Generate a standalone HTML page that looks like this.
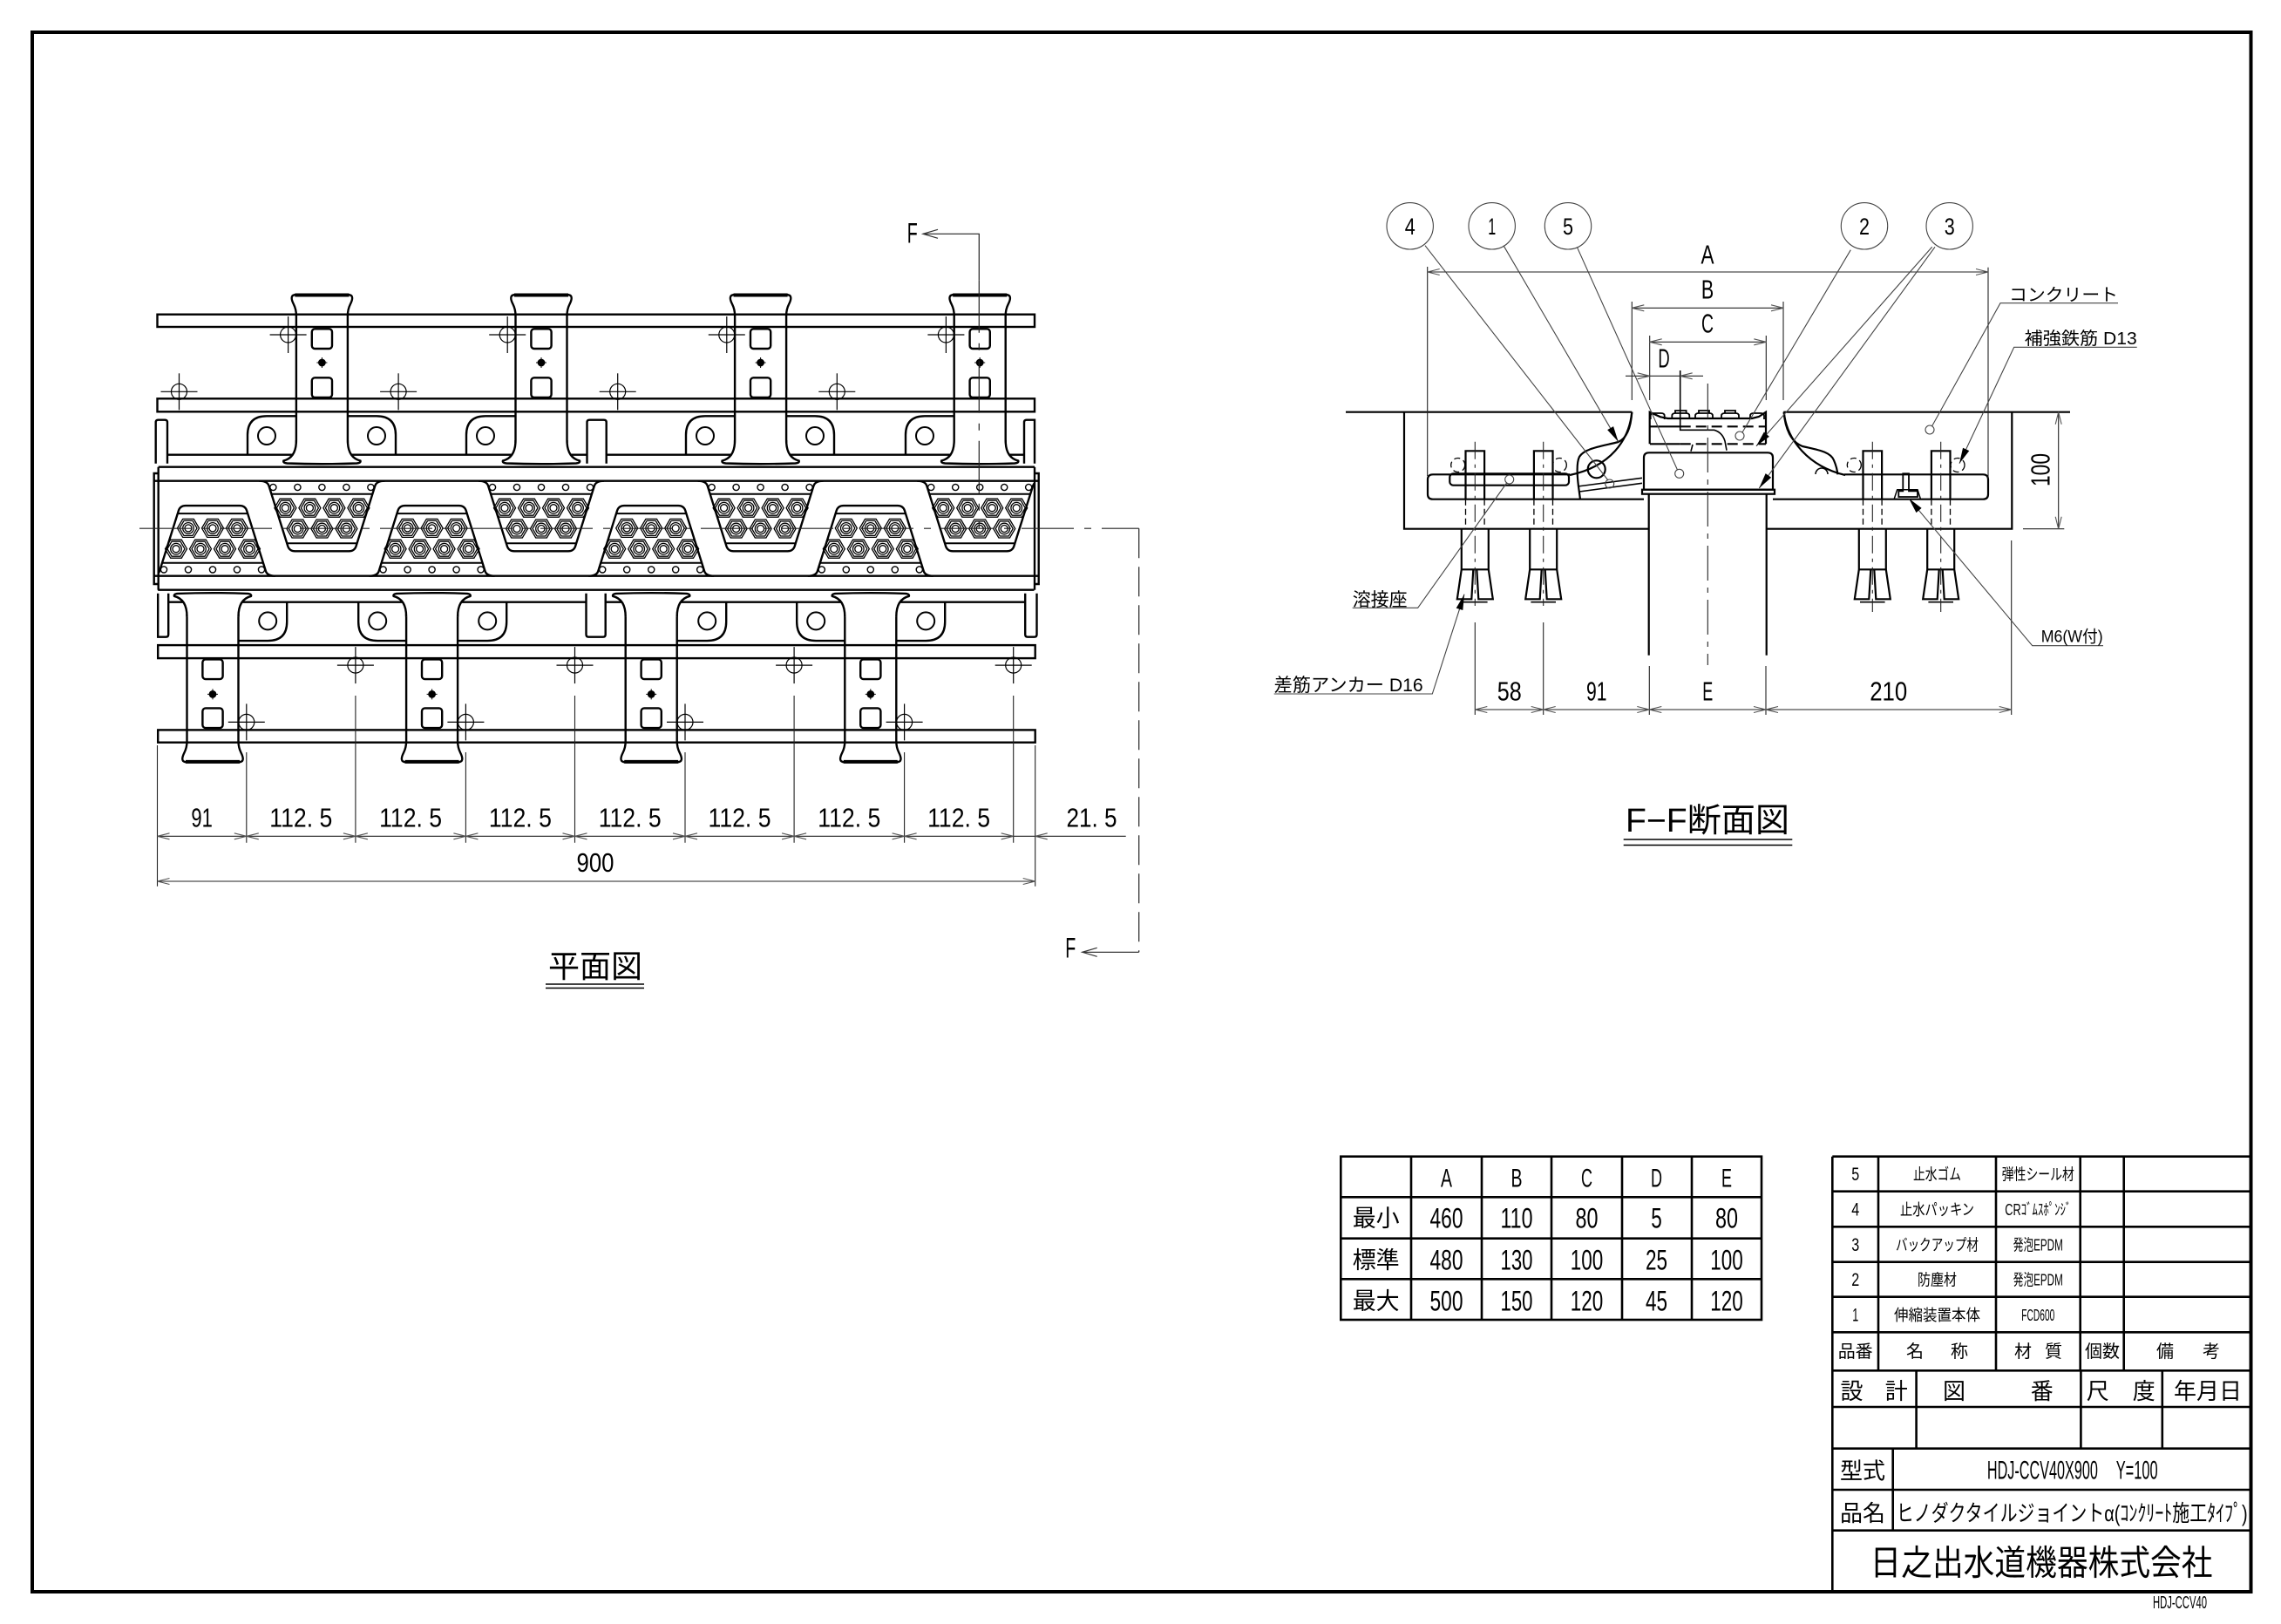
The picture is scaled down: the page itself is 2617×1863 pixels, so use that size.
<!DOCTYPE html>
<html><head><meta charset="utf-8">
<style>
html,body{margin:0;padding:0;background:#fff;}
svg{display:block;}
.n{font-family:"Liberation Sans Narrow","Liberation Sans",sans-serif;}
.j{font-family:"Liberation Sans","Noto Sans CJK JP",sans-serif;}
</style></head><body>
<svg xmlns="http://www.w3.org/2000/svg" width="2617" height="1863" viewBox="0 0 2617 1863">
<defs>
<marker id="da" viewBox="-18 -7 20 14" refX="0" refY="0" markerWidth="20" markerHeight="14" markerUnits="userSpaceOnUse" orient="auto-start-reverse"><path d="M-14,-3.5 L0,0 L-14,3.5" fill="none" stroke="#555" stroke-width="1.1"/></marker>
<marker id="fa" viewBox="-20 -8 22 16" refX="0" refY="0" markerWidth="22" markerHeight="16" markerUnits="userSpaceOnUse" orient="auto-start-reverse"><path d="M-17,-5 L0,0 L-17,5" fill="none" stroke="#333" stroke-width="1.2"/></marker>
<marker id="ah" viewBox="-20 -6 22 12" refX="0" refY="0" markerWidth="22" markerHeight="12" markerUnits="userSpaceOnUse" orient="auto"><path d="M-18,-4 L0,0 L-18,4 Z" fill="#000"/></marker>
<clipPath id="cp"><rect x="176" y="540" width="1011" height="135"/></clipPath>
<g id="nut" fill="none" stroke="#000" stroke-width="1.3"><polygon points="-12.5,0 -6.3,-10.5 6.3,-10.5 12.5,0 6.3,10.5 -6.3,10.5"/><polygon points="-10,0 -5,-8.5 5,-8.5 10,0 5,8.5 -5,8.5"/><circle r="6.3"/><circle r="4"/></g>
<g id="ch" fill="none" stroke="#000" stroke-width="1.2"><circle r="9"/><line x1="-21" y1="0" x2="21" y2="0"/><line x1="0" y1="-21" x2="0" y2="21"/></g>
<g id="pk" fill="none" stroke="#000">
<path d="M-72,551.7 Q-63,551.7 -61,557 L-39,627 Q-37,632.3 -31,632.3 H31 Q37,632.3 39,627 L61,557 Q63,551.7 72,551.7" stroke-width="2.4"/>
<line x1="-58" y1="566.7" x2="58" y2="566.7" stroke-width="2"/>
<line x1="-41" y1="623.3" x2="41" y2="623.3" stroke-width="2"/>
<g stroke-width="1.4"><circle cx="-56" cy="559" r="3.6"/><circle cx="-28" cy="559" r="3.6"/><circle cx="0" cy="559" r="3.6"/><circle cx="28" cy="559" r="3.6"/><circle cx="56" cy="559" r="3.6"/></g>
<use href="#nut" x="-42" y="582.7"/><use href="#nut" x="-14" y="582.7"/><use href="#nut" x="14" y="582.7"/><use href="#nut" x="42" y="582.7"/>
<use href="#nut" x="-28" y="606.5"/><use href="#nut" x="0" y="606.5"/><use href="#nut" x="28" y="606.5"/>
</g>
<g id="brk" fill="none" stroke="#000" stroke-width="2.4">
<path d="M-29.5,508 V362 Q-29.5,355 -32.5,349 Q-36,342 -34,339.5 Q-32.5,338 -29,338 H29 Q32.5,338 34,339.5 Q36,342 32.5,349 Q29.5,355 29.5,362 V508"/>
<line x1="-31" y1="338.5" x2="31" y2="338.5" stroke-width="4"/>
<path d="M-29.5,505 Q-29.5,525 -44,528.5 Q-45,531 -40,531.5 Q0,533 40,531.5 Q45,531 44,528.5 Q29.5,525 29.5,505" fill="#fff"/>
<rect x="-11.6" y="377.3" width="23.2" height="22.7" rx="3.5"/>
<rect x="-11.6" y="433.3" width="23.2" height="22.7" rx="3.5"/>
<circle cx="0" cy="416" r="3.2" fill="#000"/>
<path d="M-6,416 H6 M0,410 V422" stroke-width="1"/>
</g>
<g id="half" fill="none" stroke="#000" stroke-width="2.4">
<rect x="180.5" y="360.7" width="1006.5" height="14.3"/>
<rect x="180.5" y="457.3" width="1006.5" height="15"/>
<line x1="192" y1="521.7" x2="1175" y2="521.7"/>
<path d="M339.9,477.3 H306 Q284,477.3 284,499 V521.7"/>
<path d="M398.9,477.3 H432 Q454,477.3 454,499 V521.7"/>
<path d="M591.5,477.3 H557 Q535,477.3 535,499 V521.7"/>
<path d="M843.1,477.3 H809 Q787,477.3 787,499 V521.7"/>
<path d="M902.1,477.3 H935 Q957,477.3 957,499 V521.7"/>
<path d="M1094.7,477.3 H1061 Q1039,477.3 1039,499 V521.7"/>
<g stroke-width="2"><circle cx="306" cy="500" r="10"/><circle cx="432" cy="500" r="10"/><circle cx="557" cy="500" r="10"/><circle cx="809" cy="500" r="10"/><circle cx="935" cy="500" r="10"/><circle cx="1061" cy="500" r="10"/></g>
<path d="M178.7,531.7 V484.5 Q178.7,481.7 181.5,481.7 H189.2 Q192,481.7 192,484.5 V531.7" fill="#fff"/>
<path d="M673.5,531.7 V484.5 Q673.5,481.7 676.3,481.7 H692.9 Q695.7,481.7 695.7,484.5 V531.7" fill="#fff"/>
<path d="M1175,531.7 V484.5 Q1175,481.7 1177.8,481.7 H1187 V531.7" fill="#fff"/>
<use href="#brk" x="369.4"/><use href="#brk" x="621"/><use href="#brk" x="872.6"/><use href="#brk" x="1124.2"/>
<line x1="181.7" y1="535.7" x2="1187" y2="535.7"/>
<line x1="176.7" y1="551.7" x2="1191.7" y2="551.7"/>
<g clip-path="url(#cp)"><use href="#pk" x="369.4"/><use href="#pk" x="621"/><use href="#pk" x="872.6"/><use href="#pk" x="1124.2"/></g>
<use href="#ch" x="330.6" y="384"/><use href="#ch" x="582.2" y="384"/><use href="#ch" x="833.8" y="384"/><use href="#ch" x="1085.4" y="384"/>
<use href="#ch" x="205.5" y="449.3"/><use href="#ch" x="457.1" y="449.3"/><use href="#ch" x="708.7" y="449.3"/><use href="#ch" x="960.3" y="449.3"/>
</g>
</defs>

<!-- border -->
<rect x="37" y="37" width="2545.5" height="1789" fill="none" stroke="#000" stroke-width="4"/>

<!-- ============ PLAN VIEW ============ -->
<use href="#half"/>
<use href="#half" transform="rotate(180 684.1 606.2)"/>
<g fill="none" stroke="#000" stroke-width="2.4">
<path d="M181.7,535.7 V676.7 M181.7,543 H176.7 V670 H181.7"/>
<path d="M1187,535.7 V676.7 M1187,543 H1191.7 V670 H1187"/>
</g>
<g fill="none" stroke="#222" stroke-width="1.2">
<line x1="160" y1="606.2" x2="1306.7" y2="606.2" stroke-dasharray="60 12 8 12"/>
<path d="M1059,268.3 H1123.3 V321.7" marker-start="url(#fa)"/>
<line x1="1123.3" y1="321.7" x2="1123.3" y2="606" stroke-dasharray="60 12 8 12"/>
<line x1="1306.7" y1="606.2" x2="1306.7" y2="1092.3" stroke-dasharray="34 10"/>
<path d="M1241.7,1092.3 H1306.7" marker-start="url(#fa)"/>
</g>
<text class="n" x="1046.7" y="278.3" font-size="32" text-anchor="middle" textLength="12" lengthAdjust="spacingAndGlyphs">F</text>
<text class="n" x="1228.3" y="1098.3" font-size="32" text-anchor="middle" textLength="12" lengthAdjust="spacingAndGlyphs">F</text>

<!-- plan dims -->
<g fill="none" stroke="#222" stroke-width="1.1">
<path d="M180.5,855 V1016.7 M1187.7,855 V1016.7"/>
<path d="M282.8,863 V966.7 M534.4,863 V966.7 M786,863 V966.7 M1037.6,863 V966.7"/>
<path d="M407.9,798 V966.7 M659.5,798 V966.7 M911.1,798 V966.7 M1162.7,798 V966.7"/>
<g marker-start="url(#da)" marker-end="url(#da)">
<line x1="180.5" y1="959.3" x2="282.8" y2="959.3"/>
<line x1="282.8" y1="959.3" x2="407.9" y2="959.3"/>
<line x1="407.9" y1="959.3" x2="534.4" y2="959.3"/>
<line x1="534.4" y1="959.3" x2="659.5" y2="959.3"/>
<line x1="659.5" y1="959.3" x2="786" y2="959.3"/>
<line x1="786" y1="959.3" x2="911.1" y2="959.3"/>
<line x1="911.1" y1="959.3" x2="1037.6" y2="959.3"/>
<line x1="1037.6" y1="959.3" x2="1162.7" y2="959.3"/>
<line x1="180.5" y1="1011" x2="1187.7" y2="1011"/>
</g>
<line x1="1162.7" y1="959.3" x2="1187.7" y2="959.3"/>
<line x1="1187.7" y1="959.3" x2="1291.7" y2="959.3" marker-start="url(#da)"/>
</g>
<g class="n" font-size="31" text-anchor="middle" fill="#000">
<text x="231.6" y="948.3" textLength="24.5" lengthAdjust="spacingAndGlyphs">91</text>
<text x="345.3" y="948.3" textLength="72" lengthAdjust="spacingAndGlyphs">112. 5</text>
<text x="471.1" y="948.3" textLength="72" lengthAdjust="spacingAndGlyphs">112. 5</text>
<text x="596.9" y="948.3" textLength="72" lengthAdjust="spacingAndGlyphs">112. 5</text>
<text x="722.7" y="948.3" textLength="72" lengthAdjust="spacingAndGlyphs">112. 5</text>
<text x="848.5" y="948.3" textLength="72" lengthAdjust="spacingAndGlyphs">112. 5</text>
<text x="974.3" y="948.3" textLength="72" lengthAdjust="spacingAndGlyphs">112. 5</text>
<text x="1100.1" y="948.3" textLength="72" lengthAdjust="spacingAndGlyphs">112. 5</text>
<text x="1252.5" y="948.3" textLength="58" lengthAdjust="spacingAndGlyphs">21. 5</text>
<text x="683" y="1000" textLength="43" lengthAdjust="spacingAndGlyphs">900</text>
</g>
<text class="j" x="683" y="1121" font-size="36" text-anchor="middle">平面図</text>
<path d="M626,1129 H739 M626,1133.5 H739" stroke="#000" stroke-width="1.4"/>

<!-- ============ SECTION F-F ============ -->
<g fill="none" stroke="#000" stroke-width="2.2">
<path d="M1544,472.7 H1872.3 M2046.3,472.7 H2375"/>
<path d="M1611,472.7 V606.7 H1892.3 M2026,606.7 H2308.3 V472.7"/>
<path d="M1891.7,566.7 V751.7 M2026.7,566.7 V751.7"/>
<path d="M1886,561.7 V525 Q1886,519.3 1892,519.3 H2028 Q2034,519.3 2034,525 V561.7 Z"/>
<rect x="1884" y="561.7" width="152" height="5"/>
<path d="M1801,544.3 H1644 Q1638,544.3 1638,550 V567 Q1638,572.7 1644,572.7 H1886"/>
<rect x="1663.3" y="543.3" width="136.7" height="13.4" rx="4"/>
<path d="M1810,558 L1884,548.3 M1812,564 L1884,554.3" stroke-width="1.6"/>
<path d="M2116,544.3 H2275 Q2281,544.3 2281,550 V567 Q2281,572.7 2275,572.7 H2034"/>
<path d="M1872.3,472.7 C1871,492 1866,503 1856.7,507 C1838,512 1818,514 1812,524 C1808,532 1810,550 1811,558 L1813,572.7"/>
<path d="M1872.3,472.7 C1869,505 1848,535 1801,545"/>
<circle cx="1831.7" cy="538.3" r="10"/>
<path d="M2046.7,472.7 C2048,492 2055,507 2068,512 C2085,516 2100,518 2104,528 C2107,535 2108,540 2108.3,544.3"/>
<path d="M2046.7,472.7 C2050,505 2075,535 2117,545"/>
<path d="M2083,544 A7,7 0 0 1 2097,544" stroke-width="1.5"/>
<path d="M1892.7,509.3 V472.7 L1905,478.3 L1913.3,480 H2010 L2018,478 L2026,472.7 V509.3"/>
<path d="M1893,489.3 H1927.7 M1893,509.3 H1927.7"/>
<path d="M1927.7,489.3 H2026 M1927.7,509.3 H2026" stroke-dasharray="12 6"/>
<path d="M1927.7,425 V493.3 H1966.7 Q1976,496 1979,506 L1981,516.7 M1940,517.7 L1942,510" stroke-width="1.6"/>
<g stroke-width="1.8">
<path d="M1893.7,481 V477 Q1893.7,474 1897.7,474 H1905.7 Q1909.7,474 1909.7,477 V481"/>
<path d="M1918.3,481 V477 Q1918.3,474 1922.3,474 H1934.3 Q1938.3,474 1938.3,477 V481 M1922,474 V471 H1934.6 V474"/>
<path d="M1945,481 V477 Q1945,474 1949,474 H1961 Q1965,474 1965,477 V481 M1949,474 V471 H1961 V474"/>
<path d="M1975,481 V477 Q1975,474 1979,474 H1991 Q1995,474 1995,477 V481 M1979,474 V471 H1991 V474"/>
<path d="M2008,481 V477 Q2008,474 2012,474 H2020 Q2024,474 2024,477 V481"/>
</g>
<path d="M2183.3,543.3 V563.3 H2178.3 V570 H2200 V563.3 H2190 V543.3 Z" stroke-width="1.8"/>
<path d="M2173.3,572 L2176.7,561.7 H2200 L2203.3,572" stroke-width="1.5"/>
<!-- anchors -->
<path d="M1681.5,572.7 V517.3 H1703.1 V572.7 M1676.8,606.7 V653.3 H1707.8 V606.7 M1676.8,653.3 L1671.8,687.3 H1688.3 L1690.3,653.3 M1694.3,653.3 L1696.3,687.3 H1712.8 L1707.8,653.3"/>
<path d="M1759.9,572.7 V517.3 H1781.5 V572.7 M1755.2,606.7 V653.3 H1786.2 V606.7 M1755.2,653.3 L1750.2,687.3 H1766.7 L1768.7,653.3 M1772.7,653.3 L1774.7,687.3 H1791.2 L1786.2,653.3"/>
<path d="M2137.5,572.7 V517.3 H2159.1 V572.7 M2132.8,606.7 V653.3 H2163.8 V606.7 M2132.8,653.3 L2127.8,687.3 H2144.3 L2146.3,653.3 M2150.3,653.3 L2152.3,687.3 H2168.8 L2163.8,653.3"/>
<path d="M2215.9,572.7 V517.3 H2237.5 V572.7 M2211.2,606.7 V653.3 H2242.2 V606.7 M2211.2,653.3 L2206.2,687.3 H2222.7 L2224.7,653.3 M2228.7,653.3 L2230.7,687.3 H2247.2 L2242.2,653.3"/>
<g stroke-width="1.3" stroke-dasharray="7 4">
<path d="M1681.5,572.7 V606.7 M1703.1,572.7 V606.7 M1759.9,572.7 V606.7 M1781.5,572.7 V606.7 M2137.5,572.7 V606.7 M2159.1,572.7 V606.7 M2215.9,572.7 V606.7 M2237.5,572.7 V606.7"/>
<circle cx="1672.7" cy="533.5" r="8"/><circle cx="1789.3" cy="533.5" r="8"/><circle cx="2127.3" cy="533.5" r="8"/><circle cx="2246" cy="533.5" r="8"/>
</g>
<path d="M1678,690.7 H1706.6 M1756.4,690.7 H1785 M2134,690.7 H2162.6 M2212.4,690.7 H2241" stroke-width="1.6"/>
</g>
<!-- section thin lines -->
<g fill="none" stroke="#222" stroke-width="1.1">
<line x1="1959.3" y1="440" x2="1959.3" y2="763" stroke-dasharray="40 8 6 8"/>
<path d="M1692.3,506.7 V695 M1770.7,506.7 V695 M2148.3,506.7 V702 M2226.7,506.7 V702" stroke-dasharray="20 6 4 6"/>
<path d="M1637.7,306 V546 M2281,306.7 V549"/>
<path d="M1872.3,346 V459 M2046,346 V459 M1892.7,385 V459 M2026.3,385 V459"/>
<path d="M1692.3,714 V820 M1770.7,714 V820 M1892.3,764 V820 M2026,764 V820 M2307.7,620 V820"/>
<path d="M2321,606.7 H2368.3"/>
<g marker-start="url(#da)" marker-end="url(#da)">
<line x1="1637.7" y1="312" x2="2281" y2="312"/>
<line x1="1872.3" y1="353.3" x2="2046" y2="353.3"/>
<line x1="1892.7" y1="392.3" x2="2026.3" y2="392.3"/>
<line x1="1692.3" y1="814" x2="1770.7" y2="814"/>
<line x1="1770.7" y1="814" x2="1892.3" y2="814"/>
<line x1="1892.3" y1="814" x2="2026" y2="814"/>
<line x1="2026" y1="814" x2="2307.7" y2="814"/>
<line x1="2361.7" y1="472.7" x2="2361.7" y2="606.7"/>
</g>
<line x1="1865" y1="431.3" x2="1892.7" y2="431.3" marker-end="url(#da)"/>
<line x1="1954" y1="431.3" x2="1927.7" y2="431.3" marker-end="url(#da)"/>
<line x1="1892.7" y1="431.3" x2="1927.7" y2="431.3"/>
</g>
<!-- leaders -->
<g fill="none" stroke="#444" stroke-width="1.1">
<circle cx="1617.7" cy="259.3" r="26.7"/><circle cx="1711.7" cy="259.3" r="26.7"/><circle cx="1799" cy="259.3" r="26.7"/><circle cx="2139" cy="259.3" r="26.7"/><circle cx="2236.7" cy="259.3" r="26.7"/>
<line x1="1635" y1="281.7" x2="1845" y2="551"/>
<circle cx="1846.7" cy="555" r="5"/>
<line x1="1725" y1="281.7" x2="1856.7" y2="506.7" marker-end="url(#ah)"/>
<line x1="1809.3" y1="283.3" x2="1924.5" y2="539"/>
<circle cx="1926.7" cy="543.3" r="5"/>
<line x1="2123.3" y1="286.7" x2="1999" y2="496"/>
<circle cx="1996" cy="500" r="5"/>
<line x1="2216.7" y1="283.3" x2="2015" y2="511.7" marker-end="url(#ah)"/>
<line x1="2220" y1="283.3" x2="2018.3" y2="560" marker-end="url(#ah)"/>
<path d="M2430,347.7 H2295 L2216.5,489"/>
<circle cx="2214" cy="493" r="5"/>
<path d="M2451.7,398.3 H2310.7 L2248,531.7" marker-end="url(#ah)"/>
<path d="M1551.7,697.3 H1626.7 L1729,553.5"/>
<circle cx="1731.7" cy="550" r="5"/>
<path d="M1461.7,796 H1643.3 L1680,681.7" marker-end="url(#ah)"/>
<path d="M2413,740.7 H2331.7 L2190,571.7" marker-end="url(#ah)"/>
</g>
<g class="n" font-size="27" text-anchor="middle" fill="#000">
<text x="1617.7" y="269" textLength="12" lengthAdjust="spacingAndGlyphs">4</text><text x="1711.7" y="269" textLength="9" lengthAdjust="spacingAndGlyphs">1</text><text x="1799" y="269" textLength="12" lengthAdjust="spacingAndGlyphs">5</text><text x="2139" y="269" textLength="12" lengthAdjust="spacingAndGlyphs">2</text><text x="2236.7" y="269" textLength="12" lengthAdjust="spacingAndGlyphs">3</text>
</g>
<g class="n" font-size="31" text-anchor="middle" fill="#000">
<text x="1959" y="302.7" textLength="15" lengthAdjust="spacingAndGlyphs">A</text><text x="1959" y="342.7" textLength="14.3" lengthAdjust="spacingAndGlyphs">B</text><text x="1959" y="381.7" textLength="14" lengthAdjust="spacingAndGlyphs">C</text><text x="1909" y="421.7" textLength="13.3" lengthAdjust="spacingAndGlyphs">D</text>
<text x="1731.7" y="803.3" textLength="28" lengthAdjust="spacingAndGlyphs">58</text>
<text x="1831.7" y="803.3" textLength="23.5" lengthAdjust="spacingAndGlyphs">91</text>
<text x="1959.3" y="803.3" textLength="12" lengthAdjust="spacingAndGlyphs">E</text>
<text x="2166.7" y="803.3" textLength="43" lengthAdjust="spacingAndGlyphs">210</text>
<text transform="translate(2351.7,539) rotate(-90)" x="0" y="0" textLength="38" lengthAdjust="spacingAndGlyphs">100</text>
</g>
<g class="j" fill="#000">
<text x="2305" y="345" font-size="20" textLength="125" lengthAdjust="spacingAndGlyphs">コンクリート</text>
<text x="2322.7" y="395" font-size="20" textLength="129" lengthAdjust="spacingAndGlyphs">補強鉄筋 D13</text>
<text x="1551.7" y="695" font-size="21" textLength="63" lengthAdjust="spacingAndGlyphs">溶接座</text>
<text x="1461.7" y="793" font-size="21" textLength="171" lengthAdjust="spacingAndGlyphs">差筋アンカー D16</text>
<text x="2341.7" y="736.7" font-size="19" textLength="71" lengthAdjust="spacingAndGlyphs">M6(W付)</text>
<text x="1959" y="954" font-size="38" text-anchor="middle" textLength="188" lengthAdjust="spacingAndGlyphs">F−F断面図</text>
</g>
<path d="M1862.7,963 H2056.3 M1862.7,969.5 H2056.3" stroke="#000" stroke-width="1.4"/>

<!-- ============ DIMENSION TABLE ============ -->
<g fill="none" stroke="#000" stroke-width="2.6">
<rect x="1538.3" y="1326.7" width="482.7" height="187.3"/>
<path d="M1619,1326.7 V1514 M1700,1326.7 V1514 M1780,1326.7 V1514 M1861,1326.7 V1514 M1941,1326.7 V1514"/>
<path d="M1538.3,1373.3 H2021 M1538.3,1420.7 H2021 M1538.3,1467.3 H2021"/>
</g>
<g class="n" font-size="30" text-anchor="middle" fill="#000">
<text x="1659.5" y="1361.7" textLength="13" lengthAdjust="spacingAndGlyphs">A</text><text x="1740" y="1361.7" textLength="13" lengthAdjust="spacingAndGlyphs">B</text><text x="1820.5" y="1361.7" textLength="13" lengthAdjust="spacingAndGlyphs">C</text><text x="1900.5" y="1361.7" textLength="13" lengthAdjust="spacingAndGlyphs">D</text><text x="1981" y="1361.7" textLength="12" lengthAdjust="spacingAndGlyphs">E</text>
</g>
<g class="n" font-size="32" text-anchor="middle" fill="#000">
<text x="1659.5" y="1408.3" textLength="38" lengthAdjust="spacingAndGlyphs">460</text>
<text x="1740" y="1408.3" textLength="37" lengthAdjust="spacingAndGlyphs">110</text>
<text x="1820.5" y="1408.3" textLength="26" lengthAdjust="spacingAndGlyphs">80</text>
<text x="1900.5" y="1408.3" textLength="12.5" lengthAdjust="spacingAndGlyphs">5</text>
<text x="1981" y="1408.3" textLength="26" lengthAdjust="spacingAndGlyphs">80</text>
<text x="1659.5" y="1456.7" textLength="38" lengthAdjust="spacingAndGlyphs">480</text>
<text x="1740" y="1456.7" textLength="37" lengthAdjust="spacingAndGlyphs">130</text>
<text x="1820.5" y="1456.7" textLength="37.5" lengthAdjust="spacingAndGlyphs">100</text>
<text x="1900.5" y="1456.7" textLength="25" lengthAdjust="spacingAndGlyphs">25</text>
<text x="1981" y="1456.7" textLength="37.5" lengthAdjust="spacingAndGlyphs">100</text>
<text x="1659.5" y="1503.3" textLength="38" lengthAdjust="spacingAndGlyphs">500</text>
<text x="1740" y="1503.3" textLength="37" lengthAdjust="spacingAndGlyphs">150</text>
<text x="1820.5" y="1503.3" textLength="37.5" lengthAdjust="spacingAndGlyphs">120</text>
<text x="1900.5" y="1503.3" textLength="25" lengthAdjust="spacingAndGlyphs">45</text>
<text x="1981" y="1503.3" textLength="37.5" lengthAdjust="spacingAndGlyphs">120</text>
</g>
<g class="j" font-size="27" text-anchor="middle" fill="#000">
<text x="1578.7" y="1407">最小</text><text x="1578.7" y="1455">標準</text><text x="1578.7" y="1502">最大</text>
</g>

<!-- ============ PARTS TABLE / TITLE BLOCK ============ -->
<g fill="none" stroke="#000" stroke-width="2.6">
<path d="M2102.3,1326.7 V1826 M2102.3,1326.7 H2582"/>
<path d="M2102.3,1366.7 H2582 M2102.3,1407.3 H2582 M2102.3,1447.7 H2582 M2102.3,1487.7 H2582 M2102.3,1528.3 H2582 M2102.3,1572.3 H2582 M2102.3,1614 H2582 M2102.3,1661.7 H2582 M2102.3,1709 H2582 M2102.3,1755.7 H2582"/>
<path d="M2155,1326.7 V1572.3 M2290,1326.7 V1572.3 M2386.7,1326.7 V1572.3 M2436.7,1326.7 V1572.3"/>
<path d="M2198.6,1572.3 V1661.7 M2387.4,1572.3 V1661.7 M2480.8,1572.3 V1661.7"/>
<path d="M2171.7,1661.7 V1755.7"/>
</g>
<g class="n" font-size="21" text-anchor="middle" fill="#000">
<text x="2128.7" y="1354.2" textLength="9" lengthAdjust="spacingAndGlyphs">5</text><text x="2128.7" y="1394.5" textLength="9" lengthAdjust="spacingAndGlyphs">4</text><text x="2128.7" y="1435" textLength="9" lengthAdjust="spacingAndGlyphs">3</text><text x="2128.7" y="1475.2" textLength="9" lengthAdjust="spacingAndGlyphs">2</text><text x="2128.7" y="1515.5" textLength="7" lengthAdjust="spacingAndGlyphs">1</text>
</g>
<g class="j" font-size="18" text-anchor="middle" fill="#000">
<text x="2222.5" y="1353.5" textLength="55" lengthAdjust="spacingAndGlyphs">止水ゴム</text>
<text x="2222.5" y="1394" textLength="85" lengthAdjust="spacingAndGlyphs">止水パッキン</text>
<text x="2222.5" y="1434.5" textLength="95" lengthAdjust="spacingAndGlyphs">バックアップ材</text>
<text x="2222.5" y="1474.5" textLength="45" lengthAdjust="spacingAndGlyphs">防塵材</text>
<text x="2222.5" y="1515" textLength="99" lengthAdjust="spacingAndGlyphs">伸縮装置本体</text>
<text x="2338.3" y="1353.5" textLength="83" lengthAdjust="spacingAndGlyphs">弾性シール材</text>
<text x="2338.3" y="1394" textLength="76" lengthAdjust="spacingAndGlyphs">CRｺﾞﾑｽﾎﾟﾝｼﾞ</text>
<text x="2338.3" y="1434.5" textLength="57" lengthAdjust="spacingAndGlyphs">発泡EPDM</text>
<text x="2338.3" y="1474.5" textLength="57" lengthAdjust="spacingAndGlyphs">発泡EPDM</text>
<text x="2338.3" y="1515" textLength="38" lengthAdjust="spacingAndGlyphs">FCD600</text>
</g>
<g class="j" font-size="20" text-anchor="middle" fill="#000">
<text x="2128.7" y="1557">品番</text>
<text x="2197" y="1557">名</text><text x="2248" y="1557">称</text>
<text x="2321" y="1557">材</text><text x="2356" y="1557">質</text>
<text x="2412" y="1557">個数</text>
<text x="2484" y="1557">備</text><text x="2537" y="1557">考</text>
</g>
<g class="j" font-size="26" text-anchor="middle" fill="#000">
<text x="2124.5" y="1605">設</text><text x="2175.7" y="1605">計</text>
<text x="2242" y="1605">図</text><text x="2342.7" y="1605">番</text>
<text x="2406.7" y="1605">尺</text><text x="2459.7" y="1605">度</text>
<text x="2533" y="1605">年月日</text>
<text x="2137" y="1696.7">型式</text>
<text x="2137" y="1745">品名</text>
</g>
<text class="n" x="2279.9" y="1696.7" font-size="30" textLength="127" lengthAdjust="spacingAndGlyphs">HDJ-CCV40X900</text>
<text class="n" x="2427.7" y="1696.7" font-size="30" textLength="48" lengthAdjust="spacingAndGlyphs">Y=100</text>
<text class="j" x="2175.7" y="1745" font-size="26" textLength="403" lengthAdjust="spacingAndGlyphs">ヒノダクタイルジョイントα(ｺﾝｸﾘｰﾄ施工ﾀｲﾌﾟ)</text>
<text class="j" x="2342" y="1806.7" font-size="40" text-anchor="middle" textLength="393" lengthAdjust="spacingAndGlyphs">日之出水道機器株式会社</text>
<text class="n" x="2470" y="1845" font-size="20" textLength="62" lengthAdjust="spacingAndGlyphs">HDJ-CCV40</text>
</svg>
</body></html>
